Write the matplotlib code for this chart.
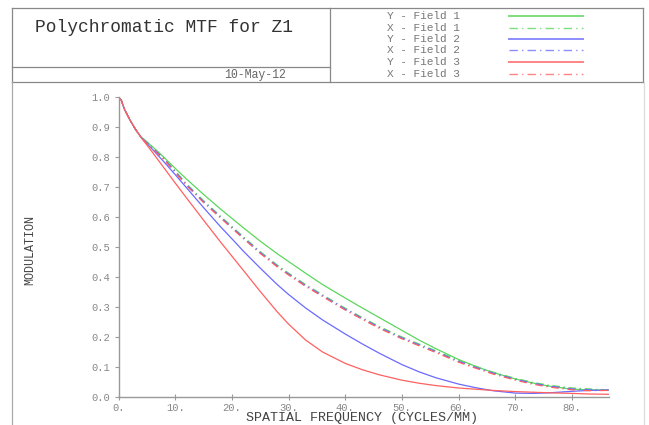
import matplotlib
matplotlib.use("Agg")
import matplotlib.pyplot as plt
from matplotlib.lines import Line2D

# ---- data ----
freq = [0, 0.5, 1, 2, 3, 4, 5, 6, 8, 10, 12, 15, 18, 20, 22, 25, 28, 30, 33, 36,
        40, 43, 46, 50, 53, 56, 60, 63, 66, 70, 73, 76, 80, 83, 86.5]

y_field1 = [1.0, 0.99, 0.962, 0.925, 0.893, 0.868, 0.851, 0.835, 0.8, 0.763, 0.727, 0.676,
            0.627, 0.596, 0.565, 0.52, 0.478, 0.452, 0.413, 0.375, 0.33, 0.297, 0.265,
            0.222, 0.19, 0.161, 0.125, 0.102, 0.082, 0.06, 0.047, 0.036, 0.026, 0.024, 0.023]
x_field = [1.0, 0.99, 0.962, 0.925, 0.893, 0.866, 0.848, 0.831, 0.795, 0.752, 0.708, 0.652,
           0.6, 0.566, 0.532, 0.482, 0.437, 0.41, 0.372, 0.338, 0.293, 0.262, 0.232,
           0.197, 0.174, 0.151, 0.119, 0.099, 0.08, 0.059, 0.046, 0.036, 0.027, 0.024, 0.022]
x_field1 = [v + (0.003 if 4 < f < 84 else 0) for f, v in zip(freq, x_field)]
x_field2 = x_field
x_field3 = [v - (0.003 if 4 < f < 84 else 0) for f, v in zip(freq, x_field)]
y_field2 = [1.0, 0.99, 0.962, 0.925, 0.893, 0.866, 0.846, 0.826, 0.785, 0.742, 0.698, 0.632,
            0.568, 0.528, 0.487, 0.43, 0.375, 0.342, 0.297, 0.257, 0.21, 0.177, 0.146,
            0.108, 0.084, 0.064, 0.043, 0.031, 0.021, 0.013, 0.012, 0.014, 0.019, 0.022, 0.023]
y_field3 = [1.0, 0.99, 0.962, 0.925, 0.893, 0.865, 0.841, 0.816, 0.765, 0.714, 0.664, 0.59,
            0.517, 0.47, 0.423, 0.352, 0.284, 0.243, 0.19, 0.15, 0.112, 0.091, 0.074,
            0.056, 0.046, 0.038, 0.03, 0.026, 0.022, 0.018, 0.016, 0.014, 0.012, 0.01, 0.009]

series_labels = ["Y - Field 1", "X - Field 1", "Y - Field 2", "X - Field 2", "Y - Field 3", "X - Field 3"]
xticks = [0, 10, 20, 30, 40, 50, 60, 70, 80]
xtick_labels = ["0.", "10.", "20.", "30.", "40.", "50.", "60.", "70.", "80."]
yticks = [0.0, 0.1, 0.2, 0.3, 0.4, 0.5, 0.6, 0.7, 0.8, 0.9, 1.0]
ytick_labels = ["%.1f" % v for v in yticks]

title = "Polychromatic MTF for Z1"
date = "10-May-12"

GREEN = "#5cd65c"
BLUE = "#6a6aff"
RED = "#ff6060"
LGREEN = "#7ede7e"
LBLUE = "#8c8cff"
LRED = "#ff8484"
DD = (0, (6, 3, 1, 3))
MONO = "Liberation Mono"

W, H = 649, 425
fig = plt.figure(figsize=(W / 100, H / 100), dpi=100)
fig.patch.set_facecolor("white")


def fx(px):
    return px / W


def fy(py):
    return 1 - py / H


def hline(x0, x1, y, color="#888888", lw=0.9):
    fig.add_artist(Line2D([fx(x0), fx(x1)], [fy(y), fy(y)], color=color, lw=lw,
                          transform=fig.transFigure))


def vline(x, y0, y1, color="#888888", lw=0.9):
    fig.add_artist(Line2D([fx(x), fx(x)], [fy(y0), fy(y1)], color=color, lw=lw,
                          transform=fig.transFigure))


# header frame
hline(12, 643, 8)
hline(12, 643, 82)
hline(12, 330, 67)
vline(12, 8, 82)
vline(330, 8, 82)
vline(643, 8, 82)
# outer plot frame
vline(12, 82, 425, color="#aaaaaa")
vline(644, 82, 425, color="#dddddd")

fig.text(fx(35), fy(28), title, family=MONO, fontsize=12.9, color="#333333",
         ha="left", va="center")
fig.text(fx(286), fy(75), date, family=MONO, fontsize=8.3, color="#666666",
         ha="right", va="center")

# axes
ax = fig.add_axes([118.5 / W, 28 / H, 490.5 / W, 299.7 / H])
ax.set_facecolor("none")
series = [
    (y_field1, GREEN, "-"),
    (x_field1, GREEN, DD),
    (y_field2, BLUE, "-"),
    (x_field2, BLUE, DD),
    (y_field3, RED, "-"),
    (x_field3, RED, DD),
]
legend_cols = [LGREEN, LGREEN, LBLUE, LBLUE, LRED, LRED]
for (vals, col, ls), lab in zip(series, series_labels):
    ax.plot(freq, vals, color=col, ls=ls, lw=0.9, label=lab)

ax.set_xlim(0, 86.5)
ax.set_ylim(0, 1.0)
for s in ["top", "right"]:
    ax.spines[s].set_visible(False)
for s in ["left", "bottom"]:
    ax.spines[s].set_color("#999999")
    ax.spines[s].set_linewidth(1.0)
ax.set_xticks(xticks)
ax.set_xticklabels(xtick_labels, family=MONO, fontsize=7.6)
ax.set_yticks(yticks)
ax.set_yticklabels(ytick_labels, family=MONO, fontsize=7.6)
ax.tick_params(axis="both", colors="#999999", length=3, width=0.8, pad=3)
ax.tick_params(axis="x", direction="inout", length=4, pad=2)
for lbl in ax.get_xticklabels() + ax.get_yticklabels():
    lbl.set_color("#888888")

fig.text(fx(362), fy(418.5), "SPATIAL FREQUENCY (CYCLES/MM)", family=MONO, fontsize=9.6,
         color="#444444", ha="center", va="center")
fig.text(fx(30), fy(250), "MODULATION", family=MONO, fontsize=8.5, color="#444444",
         ha="center", va="center", rotation=90)

# legend in header
row_y = [16, 27.7, 38.7, 50, 61.7, 73.7]
for (vals, col, ls), lcol, lab, yy in zip(series, legend_cols, series_labels, row_y):
    fig.text(fx(387), fy(yy), lab, family=MONO, fontsize=8.0, color="#777777",
             ha="left", va="center")
    fig.add_artist(Line2D([fx(509), fx(583)], [fy(yy), fy(yy)], color=lcol, ls=ls,
                          lw=1.4 if ls == "-" else 1.0, transform=fig.transFigure))

fig.savefig("out.png", dpi=100, facecolor="white")
